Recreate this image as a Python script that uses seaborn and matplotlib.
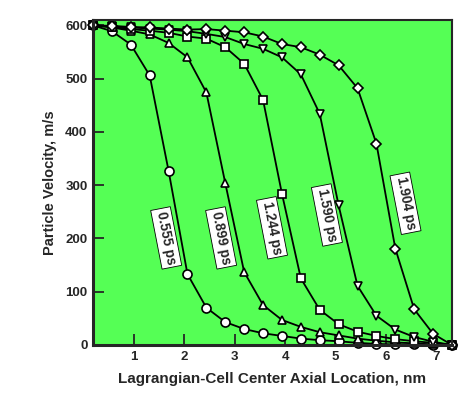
import numpy as np
import pandas as pd
import matplotlib
matplotlib.use('Agg')
import matplotlib.pyplot as plt
import seaborn as sns

# Lagrangian cell centres (nm)
x_nm = [0.1875, 0.5625, 0.9375, 1.3125, 1.6875, 2.0625, 2.4375, 2.8125, 3.1875, 3.5625,
        3.9375, 4.3125, 4.6875, 5.0625, 5.4375, 5.8125, 6.1875, 6.5625, 6.9375, 7.3125]

v_0555 = [600, 589, 564, 506, 327, 133, 70, 43, 30, 22, 17, 12, 9, 7, 4, 2, 1, 1, 0, 0]
v_0899 = [600, 596, 590, 583, 567, 540, 474, 304, 137, 75, 47, 34, 24, 18, 12, 8, 5, 3, 1, 0]
v_1244 = [600, 597, 593, 590, 586, 579, 575, 559, 528, 460, 284, 125, 66, 39, 25, 17, 11, 7, 4, 0]
v_1590 = [600, 598, 596, 594, 592, 589, 584, 578, 565, 556, 540, 508, 434, 262, 111, 55, 29, 15, 6, 0]
v_1904 = [600, 599, 597, 596, 594, 592, 593, 590, 587, 579, 565, 559, 545, 525, 482, 378, 181, 67, 21, 0]

series_names = ['0.555 ps', '0.899 ps', '1.244 ps', '1.590 ps', '1.904 ps']
series_values = [v_0555, v_0899, v_1244, v_1590, v_1904]
series_markers = ['o', '^', 's', 'v', 'D']
marker_sizes = [6.5, 6, 5.5, 6, 5.5]

# label anchor positions (nm, m/s)
label_x = [1.64, 2.73, 3.74, 4.83, 6.39]
label_y = [201, 201, 220, 244, 266]

sns.set_style('ticks')
plt.rcParams['font.family'] = ['Liberation Sans', 'DejaVu Sans']
plt.rcParams['font.weight'] = 'bold'

fig = plt.figure(figsize=(4.73, 3.98), dpi=100)
ax = fig.add_axes([0.1966, 0.1332, 0.7590, 0.8165])
ax.set_facecolor('#55ff55')

for name, vals, mk, ms in zip(series_names, series_values, series_markers, marker_sizes):
    df = pd.DataFrame({'x': x_nm, 'v': vals})
    sns.lineplot(data=df, x='x', y='v', ax=ax, color='black', linewidth=1.3,
                 marker=mk, markersize=ms, markerfacecolor='white',
                 markeredgecolor='black', markeredgewidth=1.2, clip_on=False)

for name, lx, ly in zip(series_names, label_x, label_y):
    ax.text(lx, ly, name, rotation=-79, ha='center', va='center', fontsize=9.8,
            fontweight='bold', rotation_mode='anchor',
            bbox=dict(boxstyle='square,pad=0.22', facecolor='white', edgecolor='black', linewidth=0.6))

ax.set_xlim(0.1875, 7.3125)
ax.set_ylim(0, 610)
ax.set_xticks([1, 2, 3, 4, 5, 6, 7])
ax.set_yticks([0, 100, 200, 300, 400, 500, 600])
ax.tick_params(direction='in', length=8, width=1.3, labelsize=9.5, pad=4)
for lab in ax.get_xticklabels() + ax.get_yticklabels():
    lab.set_fontweight('bold')

for side in ['left', 'bottom']:
    ax.spines[side].set_linewidth(2.2)
for side in ['top', 'right']:
    ax.spines[side].set_linewidth(1.5)

ax.set_xlabel('Lagrangian-Cell Center Axial Location, nm', fontsize=11, fontweight='bold', labelpad=7)
ax.set_ylabel('Particle Velocity, m/s', fontsize=10.5, fontweight='bold', labelpad=6)

fig.savefig('out.png', dpi=100)
